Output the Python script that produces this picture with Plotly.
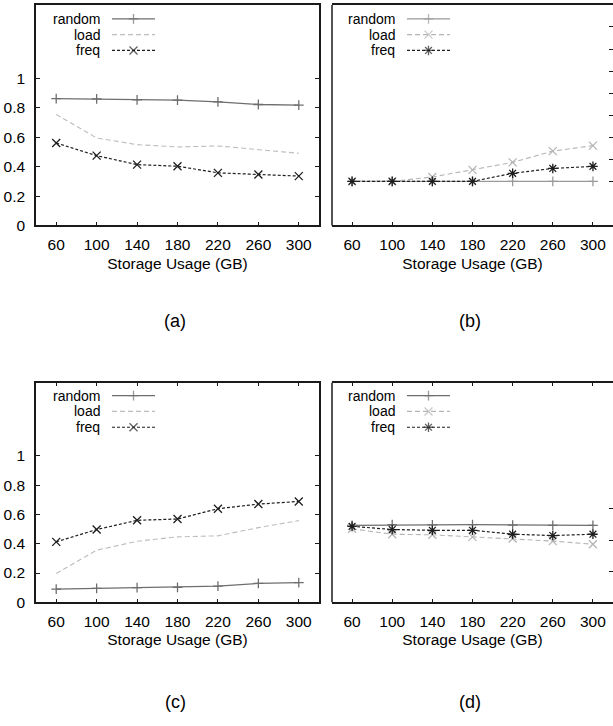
import plotly.graph_objects as go

W, H = 613, 726

x_gb = [60, 100, 140, 180, 220, 260, 300]
x_ticks = [60, 100, 140, 180, 220, 260, 300]
y_ticks = [0, 0.2, 0.4, 0.6, 0.8, 1]
y_ticktext = ["0", "0.2", "0.4", "0.6", "0.8", "1"]
b_right_ticks = [0.3, 0.45, 0.6, 0.75, 0.9, 1.05, 1.2, 1.35]
d_right_ticks = [0.21, 0.425, 0.64]

series_names = ["random", "load", "freq"]

a_random = [0.863, 0.861, 0.854, 0.852, 0.841, 0.823, 0.818]
a_load = [0.755, 0.595, 0.550, 0.534, 0.541, 0.516, 0.491]
a_freq = [0.561, 0.475, 0.414, 0.403, 0.358, 0.347, 0.336]

b_random = [0.30, 0.30, 0.30, 0.30, 0.30, 0.30, 0.30]
b_load = [0.30, 0.30, 0.33, 0.378, 0.429, 0.506, 0.543]
b_freq = [0.30, 0.30, 0.30, 0.30, 0.355, 0.388, 0.402]

c_random = [0.090, 0.095, 0.100, 0.102, 0.111, 0.129, 0.134]
c_load = [0.197, 0.356, 0.417, 0.447, 0.454, 0.510, 0.558]
c_freq = [0.413, 0.497, 0.560, 0.569, 0.639, 0.671, 0.689]

d_random = [0.526, 0.530, 0.529, 0.530, 0.527, 0.525, 0.526]
d_load = [0.502, 0.465, 0.461, 0.447, 0.436, 0.418, 0.397]
d_freq = [0.519, 0.497, 0.492, 0.492, 0.465, 0.456, 0.465]

panel_labels = ["(a)", "(b)", "(c)", "(d)"]

FONT = "Liberation Sans, Arial, sans-serif"
FS = 15.5
LFS = 14
FRAME = "#1a1a1a"

RANDOM_COL = "#6e6e6e"
RANDOM_COL_B = "#9a9a9a"
LOAD_COL = "#bdbdbd"
FREQ_COL = "#1e1e1e"

px_left = [(36, 319), (332, 613)]
px_rows = [(5, 228), (387, 609)]

def xd(p):
    return [p[0] / W, p[1] / W]

def yd(p):
    return [1 - p[1] / H, 1 - p[0] / H]

fig = go.Figure()

panels = [
    ("x", "y", a_random, a_load, a_freq, False),
    ("x2", "y2", b_random, b_load, b_freq, True),
    ("x3", "y3", c_random, c_load, c_freq, False),
    ("x4", "y4", d_random, d_load, d_freq, True),
]

def styles(alt):
    if alt:
        return [
            dict(color=RANDOM_COL_B if alt == "b" else RANDOM_COL, dash="solid", width=1.3, sym="cross-thin", msize=7),
            dict(color="#b5b5b5", dash="5px,3px", width=1.1, sym="x-thin", msize=8),
            dict(color=FREQ_COL, dash="3px,2px", width=1.2, sym="asterisk", msize=8),
        ]
    return [
        dict(color=RANDOM_COL, dash="solid", width=1.3, sym="cross-thin", msize=7),
        dict(color=LOAD_COL, dash="5px,3px", width=1.1, sym=None, msize=0),
        dict(color=FREQ_COL, dash="3px,2px", width=1.2, sym="x-thin", msize=8),
    ]

for i, (xa, ya, r, l, f, alt) in enumerate(panels):
    st = styles(("b" if i == 1 else "d") if alt else False)
    for name, vals, s in zip(series_names, [r, l, f], st):
        mode = "lines+markers" if s["sym"] else "lines"
        marker = dict(symbol=s["sym"], size=s["msize"], color=s["color"],
                      line=dict(color=s["color"], width=1.3)) if s["sym"] else None
        fig.add_trace(go.Scatter(
            x=x_gb, y=vals, xaxis=xa, yaxis=ya, mode=mode, name=name,
            line=dict(color=s["color"], dash=s["dash"], width=s["width"]),
            marker=marker, showlegend=False, hoverinfo="skip"))

    col = i % 2
    row = i // 2
    if col == 0:
        tx, l0, l1 = 102, 112, 155
    else:
        tx, l0, l1 = 397, 407, 450
    ry0 = 19 if row == 0 else 400
    for k, (name, s) in enumerate(zip(series_names, st)):
        yy = ry0 + 16 * k
        fig.add_annotation(x=tx / W, y=1 - yy / H, xref="paper", yref="paper",
                           text=name, showarrow=False, xanchor="right", yanchor="middle",
                           font=dict(family=FONT, size=LFS, color="black"))
        fig.add_trace(go.Scatter(
            x=[l0, (l0 + l1) / 2, l1], y=[yy, yy, yy], xaxis="x5", yaxis="y5",
            mode="lines+markers" if s["sym"] else "lines",
            line=dict(color=s["color"], dash=s["dash"], width=s["width"]),
            marker=dict(symbol=s["sym"] or "circle", size=[0, s["msize"], 0], color=s["color"],
                        line=dict(color=s["color"], width=1.3)),
            showlegend=False, hoverinfo="skip"))

axis_common = dict(
    showgrid=False, zeroline=False, showline=True, linecolor=FRAME, linewidth=1.5,
    ticks="inside", ticklen=4, tickwidth=1, tickcolor=FRAME,
    tickfont=dict(family=FONT, size=FS, color="black"),
)

layout = dict(
    width=W, height=H, margin=dict(l=0, r=0, t=0, b=0),
    paper_bgcolor="white", plot_bgcolor="rgba(0,0,0,0)",
    font=dict(family=FONT, size=FS, color="black"),
    showlegend=False,
)

xt = dict(text="Storage Usage (GB)", font=dict(family=FONT, size=FS, color="black"), standoff=6)

for i in range(4):
    col = i % 2
    row = i // 2
    sfx = "" if i == 0 else str(i + 1)
    xa = dict(axis_common, domain=xd(px_left[col]), range=[40, 320], tickvals=x_ticks,
              anchor="y" + sfx, title=xt, mirror=("ticks" if row == 1 else True),
              ticklabelstandoff=4)
    if col == 0:
        ya = dict(axis_common, domain=yd(px_rows[row]), range=[0, 1.5], tickvals=y_ticks,
                  ticktext=y_ticktext, anchor="x" + sfx, mirror="ticks", ticklabelstandoff=6)
    else:
        ya = dict(axis_common, domain=yd(px_rows[row]), range=[0, 1.5],
                  tickvals=b_right_ticks if row == 0 else d_right_ticks,
                  showticklabels=False, side="right", anchor="x" + sfx, showline=False)
    layout["xaxis" + sfx] = xa
    layout["yaxis" + sfx] = ya

layout["xaxis5"] = dict(domain=[0, 1], range=[0, W], visible=False, anchor="y5", fixedrange=True)
layout["yaxis5"] = dict(domain=[0, 1], range=[H, 0], visible=False, anchor="x5", fixedrange=True)

fig.update_layout(**layout)

for row in range(2):
    y0, y1 = yd(px_rows[row])
    fig.add_shape(type="line", xref="paper", yref="paper",
                  x0=px_left[1][0] / W, x1=px_left[1][0] / W, y0=y0, y1=y1,
                  line=dict(color=FRAME, width=1.5))

cap_pos = [(175, 325), (470, 325), (175, 710), (470, 710)]
for lab, (cx, cy) in zip(panel_labels, cap_pos):
    fig.add_annotation(x=cx / W, y=1 - cy / H, xref="paper", yref="paper", text=lab,
                       showarrow=False, xanchor="center", yanchor="middle",
                       font=dict(family=FONT, size=18, color="black"))

fig.write_html("out.html")
